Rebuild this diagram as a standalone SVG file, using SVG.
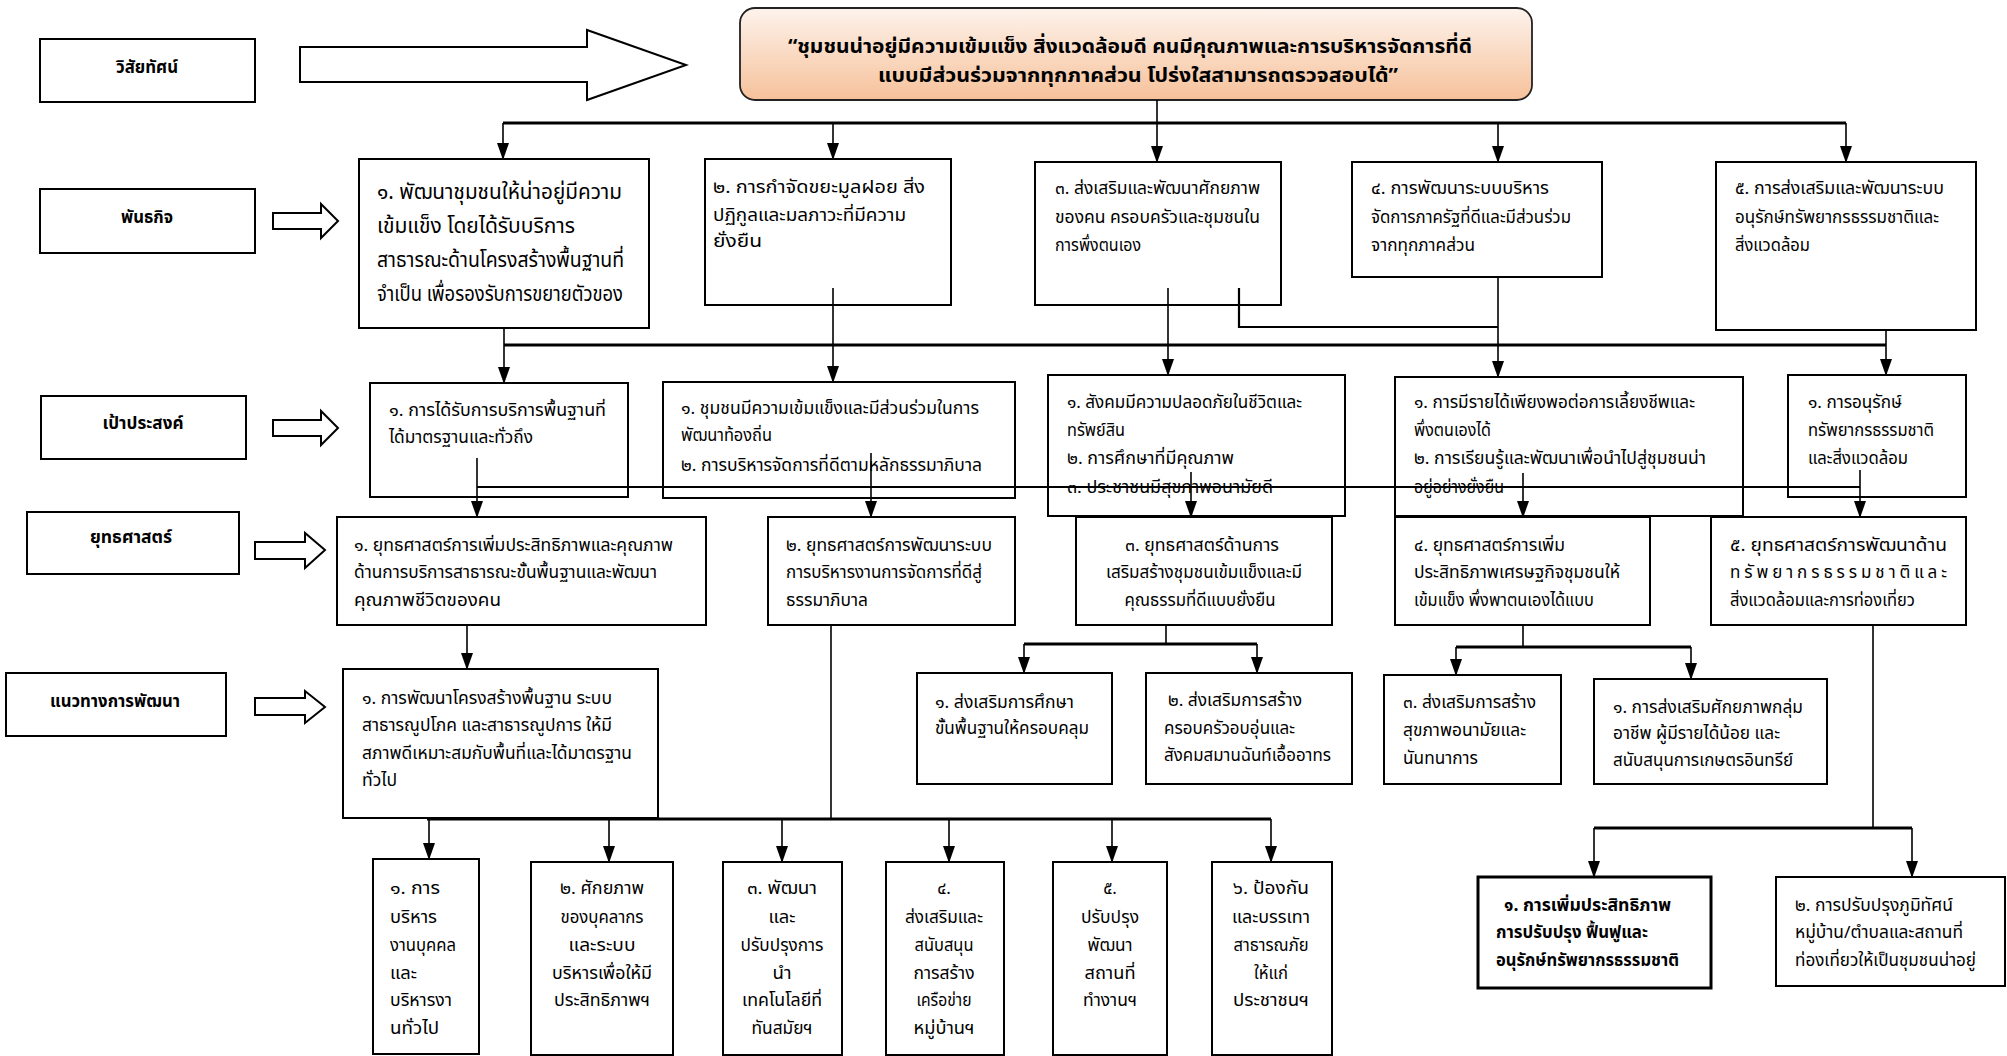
<svg xmlns="http://www.w3.org/2000/svg" width="2007" height="1056" viewBox="0 0 2007 1056">
<defs>
<linearGradient id="vg" x1="0" y1="0" x2="0" y2="1"><stop offset="0" stop-color="#fdf3ec"/><stop offset="1" stop-color="#f6c19a"/></linearGradient>
<marker id="ah" markerUnits="userSpaceOnUse" markerWidth="17" markerHeight="12" refX="16" refY="6" orient="auto"><path d="M0,0 L17,6 L0,12 Z" fill="#000"/></marker>
<style>
text{font-family:'Noto Sans Thai','Noto Sans','DejaVu Sans',sans-serif;font-size:17px;fill:#000}
.b{font-weight:bold;font-size:18px;text-anchor:middle}
.c{text-anchor:middle}
.m1{font-size:21px}
.v{font-weight:bold;font-size:20px;text-anchor:middle}
.e{font-weight:bold}
.box{fill:#fff;stroke:#000;stroke-width:2}
.box3{fill:#fff;stroke:#000;stroke-width:3}
.blk{fill:#fff;stroke:#000;stroke-width:2}
.ln{stroke:#000;stroke-width:1.6;fill:none}
.ln2{stroke:#000;stroke-width:2.2;fill:none}
.bus{stroke:#000;stroke-width:3;fill:none}
.arr{stroke:#000;stroke-width:1.6;fill:none;marker-end:url(#ah)}
</style>
</defs>
<rect x="0" y="0" width="2007" height="1056" fill="#fff"/>

<g id="label-vision"><rect class="box" x="40" y="39" width="215" height="63"/><text class="b" x="147" y="73" textLength="62" lengthAdjust="spacingAndGlyphs">วิสัยทัศน์</text></g>
<g id="label-mission"><rect class="box" x="40" y="189" width="215" height="64"/><text class="b" x="147" y="223" textLength="52" lengthAdjust="spacingAndGlyphs">พันธกิจ</text></g>
<g id="label-goal"><rect class="box" x="41" y="396" width="205" height="63"/><text class="b" x="143" y="429" textLength="81" lengthAdjust="spacingAndGlyphs">เป้าประสงค์</text></g>
<g id="label-strategy"><rect class="box" x="27" y="512" width="212" height="62"/><text class="b" x="131" y="543" textLength="82" lengthAdjust="spacingAndGlyphs">ยุทธศาสตร์</text></g>
<g id="label-approach"><rect class="box" x="6" y="673" width="220" height="63"/><text class="b" x="115" y="707" textLength="130" lengthAdjust="spacingAndGlyphs">แนวทางการพัฒนา</text></g>

<g id="arrow-vision"><polygon class="blk" points="300,47 587,47 587,30 686,65 587,100 587,82 300,82"/></g>
<g id="arrow-mission"><polygon class="blk" points="273,213 321,213 321,204 338,221 321,238 321,229 273,229"/></g>
<g id="arrow-goal"><polygon class="blk" points="273,420 321,420 321,411 338,428 321,445 321,436 273,436"/></g>
<g id="arrow-strategy"><polygon class="blk" points="255,542 305,542 305,533 325,550 305,568 305,559 255,559"/></g>
<g id="arrow-approach"><polygon class="blk" points="255,698 305,698 305,691 325,707 305,723 305,715 255,715"/></g>

<g id="vision">
<rect x="740" y="8" width="792" height="92" rx="15" fill="url(#vg)" stroke="#222" stroke-width="1.8"/>
<text class="v" x="1130" y="53" textLength="684" lengthAdjust="spacingAndGlyphs">“ชุมชนน่าอยู่มีความเข้มแข็ง  สิ่งแวดล้อมดี  คนมีคุณภาพและการบริหารจัดการที่ดี</text>
<text class="v" x="1138" y="82" textLength="520" lengthAdjust="spacingAndGlyphs">แบบมีส่วนร่วมจากทุกภาคส่วน  โปร่งใสสามารถตรวจสอบได้”</text>
</g>

<g id="m1"><rect class="box" x="359" y="159" width="290" height="169"/>
<text class="m1" x="377" y="199" textLength="245" lengthAdjust="spacingAndGlyphs">๑. พัฒนาชุมชนให้น่าอยู่มีความ</text>
<text class="m1" x="377" y="233" textLength="198" lengthAdjust="spacingAndGlyphs">เข้มแข็ง  โดยได้รับบริการ</text>
<text class="m1" x="377" y="267" textLength="247" lengthAdjust="spacingAndGlyphs">สาธารณะด้านโครงสร้างพื้นฐานที่</text>
<text class="m1" x="377" y="301" textLength="246" lengthAdjust="spacingAndGlyphs">จำเป็น  เพื่อรองรับการขยายตัวของ</text>
</g>
<g id="m2"><rect class="box" x="705" y="159" width="246" height="146"/>
<text x="713" y="193" textLength="212" lengthAdjust="spacingAndGlyphs">๒. การกำจัดขยะมูลฝอย    สิ่ง</text>
<text x="713" y="221" textLength="193" lengthAdjust="spacingAndGlyphs">ปฏิกูลและมลภาวะที่มีความ</text>
<text x="713" y="247" textLength="49" lengthAdjust="spacingAndGlyphs">ยั่งยืน</text>
</g>
<g id="m3"><rect class="box" x="1035" y="162" width="246" height="143"/>
<text x="1055" y="194" textLength="205" lengthAdjust="spacingAndGlyphs">๓. ส่งเสริมและพัฒนาศักยภาพ</text>
<text x="1055" y="223" textLength="205" lengthAdjust="spacingAndGlyphs">ของคน  ครอบครัวและชุมชนใน</text>
<text x="1055" y="251" textLength="86" lengthAdjust="spacingAndGlyphs">การพึ่งตนเอง</text>
</g>
<g id="m4"><rect class="box" x="1352" y="162" width="250" height="115"/>
<text x="1371" y="194" textLength="178" lengthAdjust="spacingAndGlyphs">๔. การพัฒนาระบบบริหาร</text>
<text x="1371" y="223" textLength="200" lengthAdjust="spacingAndGlyphs">จัดการภาครัฐที่ดีและมีส่วนร่วม</text>
<text x="1371" y="251" textLength="104" lengthAdjust="spacingAndGlyphs">จากทุกภาคส่วน</text>
</g>
<g id="m5"><rect class="box" x="1716" y="162" width="260" height="168"/>
<text x="1735" y="194" textLength="209" lengthAdjust="spacingAndGlyphs">๕. การส่งเสริมและพัฒนาระบบ</text>
<text x="1735" y="223" textLength="204" lengthAdjust="spacingAndGlyphs">อนุรักษ์ทรัพยากรธรรมชาติและ</text>
<text x="1735" y="251" textLength="75" lengthAdjust="spacingAndGlyphs">สิ่งแวดล้อม</text>
</g>

<g id="g1"><rect class="box" x="370" y="383" width="258" height="114"/>
<text x="389" y="416" textLength="217" lengthAdjust="spacingAndGlyphs">๑. การได้รับการบริการพื้นฐานที่</text>
<text x="389" y="443" textLength="144" lengthAdjust="spacingAndGlyphs">ได้มาตรฐานและทั่วถึง</text>
</g>
<g id="g2"><rect class="box" x="663" y="382" width="352" height="116"/>
<text x="681" y="414" textLength="298" lengthAdjust="spacingAndGlyphs">๑. ชุมชนมีความเข้มแข็งและมีส่วนร่วมในการ</text>
<text x="681" y="441" textLength="91" lengthAdjust="spacingAndGlyphs">พัฒนาท้องถิ่น</text>
<text x="681" y="471" textLength="301" lengthAdjust="spacingAndGlyphs">๒. การบริหารจัดการที่ดีตามหลักธรรมาภิบาล</text>
</g>
<g id="g3"><rect class="box" x="1048" y="375" width="297" height="141"/>
<text x="1067" y="408" textLength="235" lengthAdjust="spacingAndGlyphs">๑. สังคมมีความปลอดภัยในชีวิตและ</text>
<text x="1067" y="436" textLength="58" lengthAdjust="spacingAndGlyphs">ทรัพย์สิน</text>
<text x="1067" y="464" textLength="167" lengthAdjust="spacingAndGlyphs">๒.  การศึกษาที่มีคุณภาพ</text>
<text x="1067" y="493" textLength="206" lengthAdjust="spacingAndGlyphs">๓.  ประชาชนมีสุขภาพอนามัยดี</text>
</g>
<g id="g4"><rect class="box" x="1395" y="377" width="348" height="139"/>
<text x="1414" y="408" textLength="281" lengthAdjust="spacingAndGlyphs">๑. การมีรายได้เพียงพอต่อการเลี้ยงชีพและ</text>
<text x="1414" y="436" textLength="77" lengthAdjust="spacingAndGlyphs">พึ่งตนเองได้</text>
<text x="1414" y="464" textLength="292" lengthAdjust="spacingAndGlyphs">๒. การเรียนรู้และพัฒนาเพื่อนำไปสู่ชุมชนน่า</text>
<text x="1414" y="493" textLength="90" lengthAdjust="spacingAndGlyphs">อยู่อย่างยั่งยืน</text>
</g>
<g id="g5"><rect class="box" x="1788" y="375" width="178" height="122"/>
<text x="1808" y="408" textLength="94" lengthAdjust="spacingAndGlyphs">๑. การอนุรักษ์</text>
<text x="1808" y="436" textLength="126" lengthAdjust="spacingAndGlyphs">ทรัพยากรธรรมชาติ</text>
<text x="1808" y="464" textLength="100" lengthAdjust="spacingAndGlyphs">และสิ่งแวดล้อม</text>
</g>

<g id="s1"><rect class="box" x="337" y="517" width="369" height="108"/>
<text x="354" y="551" textLength="319" lengthAdjust="spacingAndGlyphs">๑. ยุทธศาสตร์การเพิ่มประสิทธิภาพและคุณภาพ</text>
<text x="354" y="578" textLength="303" lengthAdjust="spacingAndGlyphs">ด้านการบริการสาธารณะขั้นพื้นฐานและพัฒนา</text>
<text x="354" y="606" textLength="147" lengthAdjust="spacingAndGlyphs">คุณภาพชีวิตของคน</text>
</g>
<g id="s2"><rect class="box" x="768" y="517" width="247" height="108"/>
<text x="786" y="551" textLength="206" lengthAdjust="spacingAndGlyphs">๒. ยุทธศาสตร์การพัฒนาระบบ</text>
<text x="786" y="578" textLength="196" lengthAdjust="spacingAndGlyphs">การบริหารงานการจัดการที่ดีสู่</text>
<text x="786" y="606" textLength="82" lengthAdjust="spacingAndGlyphs">ธรรมาภิบาล</text>
</g>
<g id="s3"><rect class="box" x="1076" y="517" width="256" height="108"/>
<text class="c" x="1202" y="551" textLength="154" lengthAdjust="spacingAndGlyphs">๓. ยุทธศาสตร์ด้านการ</text>
<text class="c" x="1204" y="578" textLength="196" lengthAdjust="spacingAndGlyphs">เสริมสร้างชุมชนเข้มแข็งและมี</text>
<text class="c" x="1200" y="606" textLength="151" lengthAdjust="spacingAndGlyphs">คุณธรรมที่ดีแบบยั่งยืน</text>
</g>
<g id="s4"><rect class="box" x="1395" y="517" width="255" height="108"/>
<text x="1414" y="551" textLength="151" lengthAdjust="spacingAndGlyphs">๔. ยุทธศาสตร์การเพิ่ม</text>
<text x="1414" y="578" textLength="206" lengthAdjust="spacingAndGlyphs">ประสิทธิภาพเศรษฐกิจชุมชนให้</text>
<text x="1414" y="606" textLength="180" lengthAdjust="spacingAndGlyphs">เข้มแข็ง พึ่งพาตนเองได้แบบ</text>
</g>
<g id="s5"><rect class="box" x="1711" y="517" width="255" height="108"/>
<text x="1730" y="551" textLength="217" lengthAdjust="spacingAndGlyphs">๕. ยุทธศาสตร์การพัฒนาด้าน</text>
<text x="1730" y="578" textLength="217" lengthAdjust="spacing">ทรัพยากรธรรมชาติและ</text>
<text x="1730" y="606" textLength="185" lengthAdjust="spacingAndGlyphs">สิ่งแวดล้อมและการท่องเที่ยว</text>
</g>

<g id="d1"><rect class="box" x="343" y="669" width="315" height="149"/>
<text x="362" y="704" textLength="250" lengthAdjust="spacingAndGlyphs">๑. การพัฒนาโครงสร้างพื้นฐาน ระบบ</text>
<text x="362" y="731" textLength="250" lengthAdjust="spacingAndGlyphs">สาธารณูปโภค และสาธารณูปการ ให้มี</text>
<text x="362" y="759" textLength="270" lengthAdjust="spacingAndGlyphs">สภาพดีเหมาะสมกับพื้นที่และได้มาตรฐาน</text>
<text x="362" y="786" textLength="35" lengthAdjust="spacingAndGlyphs">ทั่วไป</text>
</g>
<g id="d2"><rect class="box" x="917" y="673" width="195" height="111"/>
<text x="935" y="708" textLength="139" lengthAdjust="spacingAndGlyphs">๑. ส่งเสริมการศึกษา</text>
<text x="935" y="734" textLength="154" lengthAdjust="spacingAndGlyphs">ขั้นพื้นฐานให้ครอบคลุม</text>
</g>
<g id="d3"><rect class="box" x="1146" y="673" width="206" height="111"/>
<text x="1168" y="706" textLength="134" lengthAdjust="spacingAndGlyphs">๒. ส่งเสริมการสร้าง</text>
<text x="1164" y="734" textLength="131" lengthAdjust="spacingAndGlyphs">ครอบครัวอบอุ่นและ</text>
<text x="1164" y="761" textLength="167" lengthAdjust="spacingAndGlyphs">สังคมสมานฉันท์เอื้ออาทร</text>
</g>
<g id="d4"><rect class="box" x="1384" y="675" width="177" height="109"/>
<text x="1403" y="708" textLength="133" lengthAdjust="spacingAndGlyphs">๓. ส่งเสริมการสร้าง</text>
<text x="1403" y="736" textLength="123" lengthAdjust="spacingAndGlyphs">สุขภาพอนามัยและ</text>
<text x="1403" y="764" textLength="75" lengthAdjust="spacingAndGlyphs">นันทนาการ</text>
</g>
<g id="d5"><rect class="box" x="1594" y="679" width="233" height="105"/>
<text x="1613" y="713" textLength="190" lengthAdjust="spacingAndGlyphs">๑. การส่งเสริมศักยภาพกลุ่ม</text>
<text x="1613" y="739" textLength="167" lengthAdjust="spacingAndGlyphs">อาชีพ ผู้มีรายได้น้อย และ</text>
<text x="1613" y="766" textLength="180" lengthAdjust="spacingAndGlyphs">สนับสนุนการเกษตรอินทรีย์</text>
</g>

<g id="b1"><rect class="box" x="373" y="859" width="106" height="195"/>
<text x="390" y="894" textLength="50" lengthAdjust="spacingAndGlyphs">๑. การ</text>
<text x="390" y="923" textLength="47" lengthAdjust="spacingAndGlyphs">บริหาร</text>
<text x="390" y="951" textLength="66" lengthAdjust="spacingAndGlyphs">งานบุคคล</text>
<text x="390" y="979" textLength="27" lengthAdjust="spacingAndGlyphs">และ</text>
<text x="390" y="1006" textLength="62" lengthAdjust="spacingAndGlyphs">บริหารงา</text>
<text x="390" y="1034" textLength="49" lengthAdjust="spacingAndGlyphs">นทั่วไป</text>
</g>
<g id="b2"><rect class="box" x="531" y="862" width="142" height="193"/>
<text class="c" x="602" y="894" textLength="84" lengthAdjust="spacingAndGlyphs">๒. ศักยภาพ</text>
<text class="c" x="602" y="923" textLength="83" lengthAdjust="spacingAndGlyphs">ของบุคลากร</text>
<text class="c" x="602" y="951" textLength="67" lengthAdjust="spacingAndGlyphs">และระบบ</text>
<text class="c" x="602" y="979" textLength="100" lengthAdjust="spacingAndGlyphs">บริหารเพื่อให้มี</text>
<text class="c" x="602" y="1006" textLength="96" lengthAdjust="spacingAndGlyphs">ประสิทธิภาพฯ</text>
</g>
<g id="b3"><rect class="box" x="723" y="862" width="119" height="193"/>
<text class="c" x="782" y="894" textLength="70" lengthAdjust="spacingAndGlyphs">๓. พัฒนา</text>
<text class="c" x="782" y="923" textLength="27" lengthAdjust="spacingAndGlyphs">และ</text>
<text class="c" x="782" y="951" textLength="83" lengthAdjust="spacingAndGlyphs">ปรับปรุงการ</text>
<text class="c" x="782" y="979" textLength="19" lengthAdjust="spacingAndGlyphs">นำ</text>
<text class="c" x="782" y="1006" textLength="80" lengthAdjust="spacingAndGlyphs">เทคโนโลยีที่</text>
<text class="c" x="782" y="1034" textLength="61" lengthAdjust="spacingAndGlyphs">ทันสมัยฯ</text>
</g>
<g id="b4"><rect class="box" x="886" y="862" width="118" height="193"/>
<text class="c" x="944" y="894">๔.</text>
<text class="c" x="944" y="923" textLength="78" lengthAdjust="spacingAndGlyphs">ส่งเสริมและ</text>
<text class="c" x="944" y="951" textLength="59" lengthAdjust="spacingAndGlyphs">สนับสนุน</text>
<text class="c" x="944" y="979" textLength="61" lengthAdjust="spacingAndGlyphs">การสร้าง</text>
<text class="c" x="944" y="1006" textLength="55" lengthAdjust="spacingAndGlyphs">เครือข่าย</text>
<text class="c" x="944" y="1034" textLength="61" lengthAdjust="spacingAndGlyphs">หมู่บ้านฯ</text>
</g>
<g id="b5"><rect class="box" x="1053" y="862" width="114" height="193"/>
<text class="c" x="1110" y="894">๕.</text>
<text class="c" x="1110" y="923" textLength="58" lengthAdjust="spacingAndGlyphs">ปรับปรุง</text>
<text class="c" x="1110" y="951" textLength="45" lengthAdjust="spacingAndGlyphs">พัฒนา</text>
<text class="c" x="1110" y="979" textLength="51" lengthAdjust="spacingAndGlyphs">สถานที่</text>
<text class="c" x="1110" y="1006" textLength="54" lengthAdjust="spacingAndGlyphs">ทำงานฯ</text>
</g>
<g id="b6"><rect class="box" x="1212" y="862" width="120" height="193"/>
<text class="c" x="1271" y="894" textLength="76" lengthAdjust="spacingAndGlyphs">๖. ป้องกัน</text>
<text class="c" x="1271" y="923" textLength="78" lengthAdjust="spacingAndGlyphs">และบรรเทา</text>
<text class="c" x="1271" y="951" textLength="75" lengthAdjust="spacingAndGlyphs">สาธารณภัย</text>
<text class="c" x="1271" y="979" textLength="34" lengthAdjust="spacingAndGlyphs">ให้แก่</text>
<text class="c" x="1271" y="1006" textLength="76" lengthAdjust="spacingAndGlyphs">ประชาชนฯ</text>
</g>
<g id="e1"><rect class="box3" x="1478" y="877" width="233" height="111"/>
<text class="e" x="1504" y="911" textLength="167" lengthAdjust="spacingAndGlyphs">๑. การเพิ่มประสิทธิภาพ</text>
<text class="e" x="1496" y="938" textLength="152" lengthAdjust="spacingAndGlyphs">การปรับปรุง ฟื้นฟูและ</text>
<text class="e" x="1496" y="966" textLength="183" lengthAdjust="spacingAndGlyphs">อนุรักษ์ทรัพยากรธรรมชาติ</text>
</g>
<g id="e2"><rect class="box" x="1776" y="877" width="229" height="109"/>
<text x="1795" y="911" textLength="158" lengthAdjust="spacingAndGlyphs">๒. การปรับปรุงภูมิทัศน์</text>
<text x="1795" y="938" textLength="168" lengthAdjust="spacingAndGlyphs">หมู่บ้าน/ตำบลและสถานที่</text>
<text x="1795" y="966" textLength="181" lengthAdjust="spacingAndGlyphs">ท่องเที่ยวให้เป็นชุมชนน่าอยู่</text>
</g>

<g id="connectors">
<path class="ln" d="M1157,100 V123"/>
<path class="bus" d="M503,123 H1846"/>
<path class="arr" d="M503,123 V159"/>
<path class="arr" d="M833,123 V159"/>
<path class="arr" d="M1157,123 V162"/>
<path class="arr" d="M1498,123 V162"/>
<path class="arr" d="M1846,123 V162"/>
<path class="bus" d="M504,345 H1886"/>
<path class="arr" d="M504,328 V383"/>
<path class="arr" d="M833,288 V382"/>
<path class="arr" d="M1168,288 V375"/>
<path class="ln2" d="M1239,288 V327 H1498"/>
<path class="arr" d="M1498,277 V377"/>
<path class="arr" d="M1886,330 V375"/>
<path class="ln2" d="M477,487 H1860"/>
<path class="arr" d="M477,458 V517"/>
<path class="arr" d="M871,453 V517"/>
<path class="arr" d="M1191,472 V517"/>
<path class="arr" d="M1523,473 V517"/>
<path class="arr" d="M1860,470 V517"/>
<path class="arr" d="M467,625 V669"/>
<path class="ln" d="M831,625 V819"/>
<path class="bus" d="M427,819 H1271"/>
<path class="arr" d="M429,819 V859"/>
<path class="arr" d="M609,819 V862"/>
<path class="arr" d="M782,819 V862"/>
<path class="arr" d="M949,819 V862"/>
<path class="arr" d="M1112,819 V862"/>
<path class="arr" d="M1271,819 V862"/>
<path class="ln" d="M1166,625 V644"/>
<path class="bus" d="M1024,644 H1257"/>
<path class="arr" d="M1024,644 V673"/>
<path class="arr" d="M1257,644 V673"/>
<path class="ln" d="M1523,625 V647"/>
<path class="bus" d="M1456,647 H1691"/>
<path class="arr" d="M1456,647 V675"/>
<path class="arr" d="M1691,647 V679"/>
<path class="ln" d="M1873,625 V828"/>
<path class="bus" d="M1594,828 H1912"/>
<path class="arr" d="M1594,828 V877"/>
<path class="arr" d="M1912,828 V877"/>
</g>
</svg>
